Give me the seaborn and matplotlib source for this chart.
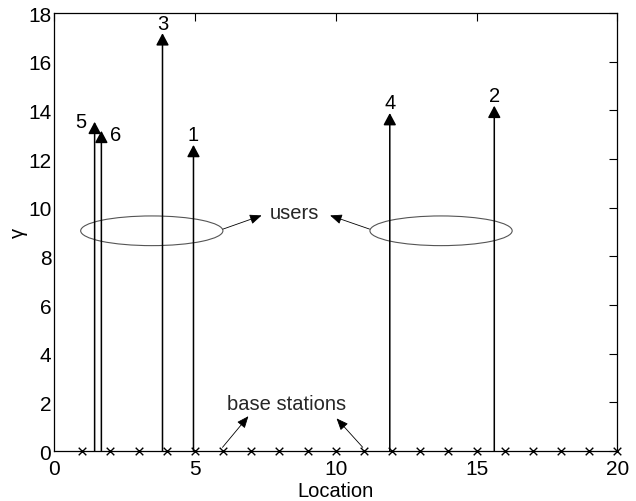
import matplotlib
matplotlib.use("Agg")
import matplotlib.pyplot as plt
from matplotlib.patches import Ellipse
import seaborn as sns
import pandas as pd

# Base station locations along the line
bs_locations = [1, 2, 3, 4, 5, 6, 7, 8, 9, 10, 11, 12, 13, 14, 15, 16, 17, 18, 19, 20]

# Users: index, location, SINR target gamma
user_ids = ["1", "2", "3", "4", "5", "6"]
user_locations = [4.95, 15.63, 3.85, 11.92, 1.44, 1.68]
user_gamma = [12.58, 14.19, 17.17, 13.89, 13.53, 13.16]

x_ticks = [0, 5, 10, 15, 20]
y_ticks = [0, 2, 4, 6, 8, 10, 12, 14, 16, 18]

FS = 14.5

sns.set_theme(style="white")
plt.rcParams["font.family"] = ["Liberation Sans", "DejaVu Sans"]

fig = plt.figure(figsize=(6.36, 5.02), dpi=100)
ax = fig.add_axes([0.085, 0.0996, 0.8857, 0.8725])

bs = pd.DataFrame({"loc": bs_locations, "y": [0] * len(bs_locations)})
sns.scatterplot(data=bs, x="loc", y="y", marker="x", color="black", s=30,
                linewidth=1.0, ax=ax, zorder=5, clip_on=False, legend=False)

# user arrows with their labels
label_offsets = {"5": (-6, 0, "right", "center"), "6": (6, -3, "left", "center")}
for uid, loc, g in zip(user_ids, user_locations, user_gamma):
    ax.annotate("", xy=(loc, g), xytext=(loc, 0),
                arrowprops=dict(arrowstyle="-|>,head_length=0.6,head_width=0.32",
                                color="black", lw=1.1, shrinkA=0, shrinkB=0))
    if uid in label_offsets:
        dx, dy, ha, va = label_offsets[uid]
    else:
        dx, dy, ha, va = (0, 0.5, "center", "bottom")
    ax.annotate(uid, xy=(loc, g), xytext=(dx, dy), textcoords="offset points",
                ha=ha, va=va, fontsize=FS, color="black")

# user groups
for cx in (3.47, 13.74):
    ax.add_patch(Ellipse((cx, 9.05), 5.05, 1.22, fill=False,
                         edgecolor="#555555", lw=0.8))

arrow_kw = dict(arrowstyle="-|>,head_length=0.6,head_width=0.25",
                color="black", lw=0.6, shrinkA=0, shrinkB=0)
ax.text(8.55, 9.8, "users", ha="center", va="center", fontsize=FS)
ax.annotate("", xy=(7.37, 9.68), xytext=(6.0, 9.12), arrowprops=arrow_kw)
ax.annotate("", xy=(9.8, 9.68), xytext=(11.2, 9.12), arrowprops=arrow_kw)

ax.text(8.25, 1.97, "base stations", ha="center", va="center", fontsize=FS)
ax.annotate("", xy=(6.9, 1.43), xytext=(5.98, 0.15), arrowprops=arrow_kw)
ax.annotate("", xy=(10.03, 1.34), xytext=(10.96, 0.15), arrowprops=arrow_kw)

ax.set_xlim(0, 20)
ax.set_ylim(0, 18)
ax.set_xticks(x_ticks)
ax.set_yticks(y_ticks)
ax.tick_params(direction="in", length=6, width=0.8, labelsize=15, colors="black",
               top=True, right=True)
ax.tick_params(axis="x", pad=6)
ax.tick_params(axis="y", pad=2)
for s in ax.spines.values():
    s.set_color("black")
    s.set_linewidth(0.9)
ax.set_xlabel("Location", fontsize=FS, labelpad=2, color="black")
ax.set_ylabel("γ", fontsize=FS, color="black")
ax.yaxis.set_label_coords(-0.047, 0.5)

fig.savefig("out.png", dpi=100)
